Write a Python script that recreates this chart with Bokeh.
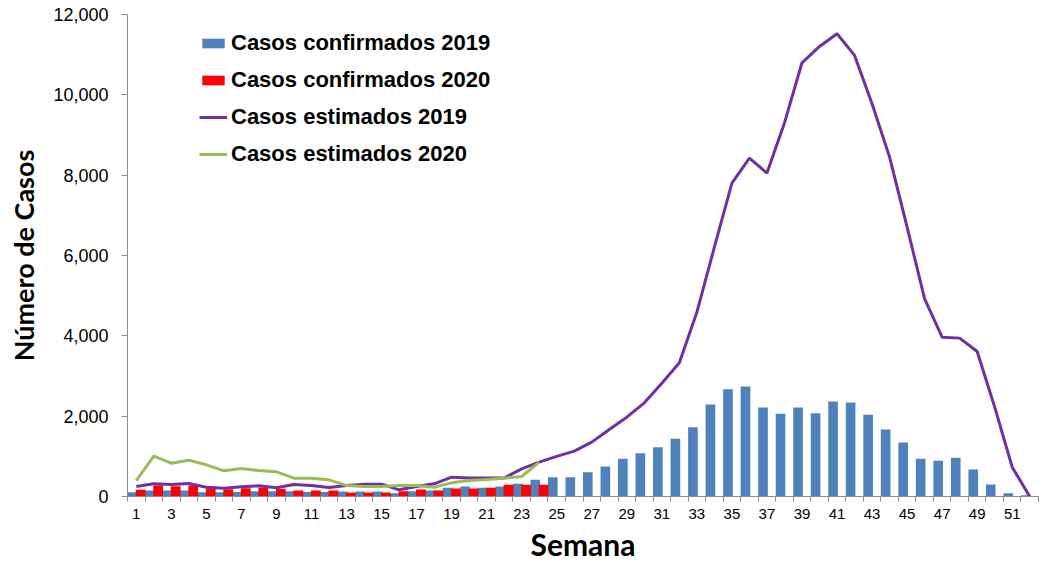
from bokeh.plotting import figure
from bokeh.models import Range1d, FixedTicker, NumeralTickFormatter, Legend, LegendItem, ColumnDataSource
from bokeh.embed import file_html
from bokeh.resources import INLINE

weeks = list(range(1, 53))
tick_weeks = list(range(1, 52, 2))
weeks_2020 = list(range(1, 25))

conf_2019 = [107, 150, 150, 150, 107, 107, 110, 130, 133, 133, 110, 110,
             125, 125, 125, 83, 133, 150, 216, 249, 216, 249, 315, 415,
             481, 481, 606, 747, 938, 1079, 1228, 1436, 1726, 2291, 2673, 2739,
             2216, 2058, 2216, 2075, 2366, 2341, 2034, 1668, 1345, 938, 888, 963,
             672, 299, 83, 33]
conf_2020 = [166, 274, 257, 274, 207, 183, 207, 224, 190, 150, 150, 150,
             100, 100, 100, 133, 174, 150, 200, 200, 216, 290, 290, 290]
est_2019 = [249, 315, 299, 324, 232, 208, 241, 266, 216, 299, 274, 224,
            274, 307, 307, 166, 249, 315, 481, 460, 460, 460, 689, 855,
            1000, 1129, 1353, 1668, 1975, 2332, 2822, 3328, 4590, 6208, 7802, 8425,
            8051, 9300, 10798, 11205, 11520, 10981, 9777, 8449, 6706, 4922, 3967, 3943,
            3611, 2224, 730, 0]
est_2020 = [398, 1004, 830, 905, 789, 639, 697, 647, 614, 456, 456, 415,
            274, 249, 249, 274, 274, 232, 340, 398, 423, 456, 498, 855]

labels = ["Casos confirmados 2019", "Casos confirmados 2020",
          "Casos estimados 2019", "Casos estimados 2020"]

FRAME_H = 482
p = figure(frame_width=911, frame_height=FRAME_H, output_backend="svg", toolbar_location=None,
           x_range=Range1d(0.5, 52.5), y_range=Range1d(0, 12000),
           min_border_left=127, min_border_right=4, min_border_top=14, min_border_bottom=50)
p.outline_line_color = None
p.xgrid.grid_line_color = None
p.ygrid.grid_line_color = None

src19 = ColumnDataSource(dict(x=[w - 0.225 for w in weeks], top=conf_2019))
src20 = ColumnDataSource(dict(x=[w + 0.25 for w in weeks_2020], top=conf_2020))
b19 = p.vbar(x="x", top="top", width=0.55, source=src19, fill_color="#4F81BD", line_color=None)
b20 = p.vbar(x="x", top="top", width=0.56, source=src20, fill_color="#FF0000", line_color=None)
l19 = p.line(weeks, est_2019, line_color="#7030A0", line_width=3)
l20 = p.line(weeks_2020, est_2020, line_color="#9BBB59", line_width=3)

legend = Legend(items=[LegendItem(label=labels[0], renderers=[b19]),
                       LegendItem(label=labels[1], renderers=[b20]),
                       LegendItem(label=labels[2], renderers=[l19]),
                       LegendItem(label=labels[3], renderers=[l20])],
                location=(72, FRAME_H - 153))
legend.background_fill_alpha = 0
legend.border_line_color = None
legend.padding = 0
legend.margin = 0
legend.spacing = 11
legend.glyph_width = 28
legend.glyph_height = 12
legend.label_height = 20
legend.label_standoff = 4
legend.label_text_font = "Liberation Sans"
legend.label_text_font_style = "bold"
legend.label_text_font_size = "22px"
legend.label_text_color = "black"
p.add_layout(legend, "center")

ax = p.xaxis[0]
ax.ticker = FixedTicker(ticks=tick_weeks, minor_ticks=[w + 0.5 for w in [0] + weeks])
ax.major_tick_out = 0
ax.major_tick_in = 0
ax.minor_tick_out = 5
ax.minor_tick_in = 0
ax.minor_tick_line_color = "#8C8C8C"
ax.axis_line_color = "#8C8C8C"
ax.major_label_text_font = "Liberation Sans"
ax.major_label_text_font_size = "15px"
ax.major_label_text_color = "black"
ax.major_label_standoff = 7
ax.axis_label = "Semana"
ax.axis_label_text_font = "Lato"
ax.axis_label_text_font_style = "bold"
ax.axis_label_text_font_size = "30px"
ax.axis_label_text_color = "black"
ax.axis_label_standoff = 4

ay = p.yaxis[0]
ay.ticker = FixedTicker(ticks=[0, 2000, 4000, 6000, 8000, 10000, 12000])
ay.formatter = NumeralTickFormatter(format="0,0")
ay.major_tick_out = 6
ay.major_tick_in = 0
ay.minor_tick_out = 0
ay.minor_tick_in = 0
ay.major_tick_line_color = "#8C8C8C"
ay.axis_line_color = "#8C8C8C"
ay.major_label_text_font = "Liberation Sans"
ay.major_label_text_font_size = "18px"
ay.major_label_text_color = "black"
ay.major_label_standoff = 13
ay.axis_label = "Número de Casos"
ay.axis_label_text_font = "Lato"
ay.axis_label_text_font_style = "bold"
ay.axis_label_text_font_size = "27px"
ay.axis_label_text_color = "black"
ay.axis_label_standoff = 10

open("out.html", "w").write(file_html(p, INLINE))
